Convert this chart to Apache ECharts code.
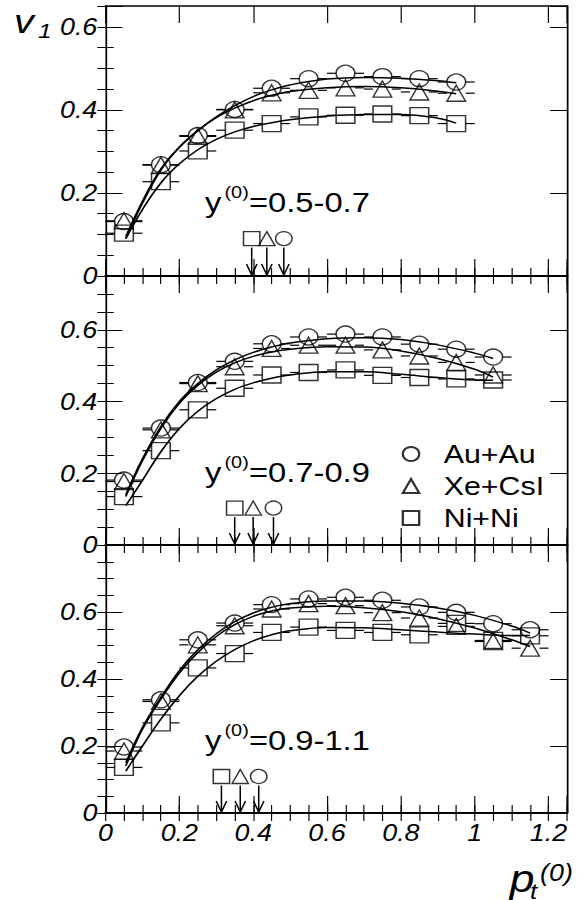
<!DOCTYPE html>
<html><head><meta charset="utf-8">
<script src="https://cdn.jsdelivr.net/npm/echarts@6/dist/echarts.min.js"></script>
<style>
html,body{margin:0;padding:0;background:#fff;overflow:hidden}
#wrap{width:584px;height:900px;overflow:hidden;position:relative}
#c{width:500px;height:900px;transform:scaleX(1.168);transform-origin:0 0}
</style></head>
<body><div id="wrap"><div id="c"></div></div>
<script>
// ---------------- data ----------------
const systems = ['Au+Au', 'Xe+CsI', 'Ni+Ni'];

const ptTop = [0.05, 0.15, 0.25, 0.35, 0.45, 0.55, 0.65, 0.75, 0.85, 0.95];
const auTop = [0.131, 0.268, 0.338, 0.401, 0.452, 0.475, 0.488, 0.480, 0.475, 0.467];
const xeTop = [0.133, 0.267, 0.336, 0.400, 0.441, 0.447, 0.453, 0.450, 0.443, 0.440];
const niTop = [0.103, 0.227, 0.301, 0.351, 0.367, 0.383, 0.387, 0.390, 0.386, 0.367];

const ptMid = [0.05, 0.15, 0.25, 0.35, 0.45, 0.55, 0.65, 0.75, 0.85, 0.95, 1.05];
const auMid = [0.181, 0.326, 0.453, 0.512, 0.561, 0.580, 0.588, 0.580, 0.560, 0.546, 0.524];
const xeMid = [0.177, 0.321, 0.450, 0.497, 0.548, 0.557, 0.557, 0.544, 0.527, 0.509, 0.474];
const niMid = [0.135, 0.263, 0.377, 0.437, 0.474, 0.481, 0.488, 0.473, 0.467, 0.463, 0.460];

const ptBot = [0.05, 0.15, 0.25, 0.35, 0.45, 0.55, 0.65, 0.75, 0.85, 0.95, 1.05, 1.15];
const auBot = [0.197, 0.338, 0.517, 0.567, 0.622, 0.639, 0.644, 0.635, 0.615, 0.599, 0.565, 0.547];
const xeBot = [0.185, 0.333, 0.502, 0.559, 0.609, 0.625, 0.619, 0.598, 0.582, 0.557, 0.512, 0.492];
const niBot = [0.136, 0.269, 0.433, 0.476, 0.539, 0.555, 0.545, 0.539, 0.532, 0.566, 0.515, 0.529];

// half width of the pt bins (horizontal error bars)
const ptHalfBin = 0.05;

// fitted curves
const fitXTop  = [0.055, 0.1, 0.15, 0.2, 0.25, 0.3, 0.35, 0.4, 0.45, 0.5, 0.6, 0.7, 0.8, 0.9, 0.95];
const fitAuTop = [0.095, 0.180, 0.258, 0.310, 0.350, 0.383, 0.410, 0.432, 0.448, 0.460, 0.474, 0.478, 0.476, 0.470, 0.465];
const fitXeTop = [0.090, 0.175, 0.255, 0.310, 0.350, 0.381, 0.404, 0.422, 0.435, 0.444, 0.453, 0.456, 0.453, 0.445, 0.439];
const fitNiTop = [0.090, 0.160, 0.224, 0.270, 0.304, 0.329, 0.347, 0.360, 0.369, 0.376, 0.385, 0.389, 0.389, 0.380, 0.368];

const fitXMid  = [0.055, 0.1, 0.15, 0.2, 0.25, 0.3, 0.35, 0.4, 0.45, 0.5, 0.6, 0.7, 0.8, 0.9, 1.0, 1.05];
const fitAuMid = [0.140, 0.240, 0.330, 0.400, 0.450, 0.488, 0.516, 0.537, 0.552, 0.563, 0.575, 0.578, 0.573, 0.558, 0.535, 0.520];
const fitXeMid = [0.135, 0.235, 0.325, 0.395, 0.445, 0.482, 0.508, 0.526, 0.538, 0.546, 0.553, 0.552, 0.541, 0.520, 0.490, 0.468];
const fitNiMid = [0.110, 0.180, 0.260, 0.325, 0.373, 0.408, 0.434, 0.452, 0.465, 0.474, 0.483, 0.483, 0.476, 0.467, 0.460, 0.459];

const fitXBot  = [0.055, 0.1, 0.15, 0.2, 0.25, 0.3, 0.35, 0.4, 0.45, 0.5, 0.6, 0.7, 0.8, 0.9, 1.0, 1.1, 1.15];
const fitAuBot = [0.150, 0.255, 0.345, 0.425, 0.487, 0.535, 0.571, 0.597, 0.614, 0.625, 0.633, 0.633, 0.626, 0.612, 0.590, 0.558, 0.537];
const fitXeBot = [0.140, 0.250, 0.340, 0.418, 0.479, 0.527, 0.562, 0.587, 0.603, 0.612, 0.617, 0.613, 0.601, 0.580, 0.552, 0.517, 0.497];
const fitNiBot = [0.125, 0.200, 0.280, 0.350, 0.408, 0.453, 0.488, 0.514, 0.532, 0.544, 0.554, 0.553, 0.547, 0.540, 0.534, 0.530, 0.530];

// threshold arrows, in system order Au+Au, Xe+CsI, Ni+Ni, and the level of their symbols
const arrowXTop = [0.483, 0.437, 0.396];
const arrowXMid = [0.455, 0.400, 0.350];
const arrowXBot = [0.415, 0.365, 0.314];
const arrowLevel = [0.090, 0.103, 0.109];

const rapidityLabels = ['=0.5-0.7', '=0.7-0.9', '=0.9-1.1'];
const yMaxPanel = [0.65, 0.75, 0.8];

const xTickValues = [0, 0.2, 0.4, 0.6, 0.8, 1.0, 1.2];
const xTickLabels = ['0', '0.2', '0.4', '0.6', '0.8', '1', '1.2'];
const yTickValues = [0, 0.2, 0.4, 0.6];
const yTickLabels = ['0', '0.2', '0.4', '0.6'];

// ---------------- layout ----------------
const SX = 584 / 500;                 // horizontal stretch of the reference
const FONT = '"Liberation Sans", Arial, Helvetica, sans-serif';
const gridTop = [6, 276, 545];
const gridH = [270, 269, 268];
const gLeft = 105.5 / SX, gWidth = 461.5 / SX;
const symbols = ['circle', 'triangle', 'rect'];

const panels = [
  {pt: ptTop, v: [auTop, xeTop, niTop], fx: fitXTop, f: [fitAuTop, fitXeTop, fitNiTop], ax: arrowXTop},
  {pt: ptMid, v: [auMid, xeMid, niMid], fx: fitXMid, f: [fitAuMid, fitXeMid, fitNiMid], ax: arrowXMid},
  {pt: ptBot, v: [auBot, xeBot, niBot], fx: fitXBot, f: [fitAuBot, fitXeBot, fitNiBot], ax: arrowXBot}
];

function lookup(vals, labels, v) {
  const i = vals.findIndex(t => Math.abs(t - v) < 1e-6);
  return i < 0 ? '' : labels[i];
}

const grids = [];
for (let k = 0; k < 2; k++) for (let g = 0; g < 3; g++)
  grids.push({left: gLeft, width: gWidth, top: gridTop[g], height: gridH[g], containLabel: false});

const tickStyle = {color: '#000', width: 1};
const labelStyle = {color: '#000', fontFamily: FONT, fontStyle: 'italic', fontSize: 23};
const xAxes = [], yAxes = [];
for (let g = 0; g < 3; g++) {
  const bx = {type: 'value', gridIndex: g, min: 0, max: 1.25, interval: 0.2, splitLine: {show: false}};
  xAxes.push(Object.assign({}, bx, {position: 'bottom',
    axisLine: {show: true, onZero: false, lineStyle: {color: '#000', width: 2}},
    axisTick: {show: true, inside: true, length: 17, lineStyle: tickStyle},
    axisLabel: g === 2 ? Object.assign({show: true, margin: 8, formatter: v => lookup(xTickValues, xTickLabels, v)}, labelStyle) : {show: false}}));
  xAxes.push(Object.assign({}, bx, {position: 'top',
    axisLine: {show: g === 0, onZero: false, lineStyle: {color: '#000', width: 1.5}},
    axisTick: {show: true, inside: true, length: 17, lineStyle: tickStyle},
    axisLabel: {show: false}}));
  const by = {type: 'value', gridIndex: g, min: 0, max: yMaxPanel[g], interval: 0.2, splitLine: {show: false}};
  yAxes.push(Object.assign({}, by, {position: 'left',
    axisLine: {show: true, onZero: false, lineStyle: {color: '#000', width: 1.5}},
    axisTick: {show: true, inside: true, length: 14.5, lineStyle: tickStyle},
    axisLabel: Object.assign({show: true, margin: 7, formatter: v => lookup(yTickValues, yTickLabels, v)}, labelStyle)}));
  yAxes.push(Object.assign({}, by, {position: 'right',
    axisLine: {show: true, onZero: false, lineStyle: {color: '#000', width: 1.5}},
    axisTick: {show: true, inside: true, length: 14.5, lineStyle: tickStyle},
    axisLabel: {show: false}}));
}
for (let g = 0; g < 3; g++) {
  const bx = {type: 'value', gridIndex: g + 3, min: 0, max: 1.25, interval: 0.05, splitLine: {show: false},
    axisLine: {show: false}, axisLabel: {show: false}, axisTick: {show: true, inside: true, length: 8, lineStyle: tickStyle}};
  xAxes.push(Object.assign({}, bx, {position: 'bottom'}));
  xAxes.push(Object.assign({}, bx, {position: 'top'}));
  const by = {type: 'value', gridIndex: g + 3, min: 0, max: yMaxPanel[g], interval: 0.05, splitLine: {show: false},
    axisLine: {show: false}, axisLabel: {show: false}, axisTick: {show: true, inside: true, length: 7, lineStyle: tickStyle}};
  yAxes.push(Object.assign({}, by, {position: 'left'}));
  yAxes.push(Object.assign({}, by, {position: 'right'}));
}

const GAP = 8;
function errRender(params, api) {
  const x = api.value(0), y = api.value(1);
  const c = api.coord([x, y]);
  const l = api.coord([x - ptHalfBin, y]);
  const r = api.coord([x + ptHalfBin, y]);
  const st = {stroke: '#000', lineWidth: 1.2};
  const ch = [];
  if (c[0] - GAP > l[0]) ch.push({type: 'line', shape: {x1: l[0], y1: c[1], x2: c[0] - GAP, y2: c[1]}, style: st});
  if (r[0] > c[0] + GAP) ch.push({type: 'line', shape: {x1: c[0] + GAP, y1: c[1], x2: r[0], y2: c[1]}, style: st});
  return {type: 'group', children: ch};
}
function arrowRender(params, api) {
  const x = api.value(0), y = api.value(1);
  const c = api.coord([x, y]);
  const z = api.coord([x, 0]);
  const st = {stroke: '#000', lineWidth: 1.3, fill: null};
  return {type: 'group', children: [
    {type: 'line', shape: {x1: c[0], y1: c[1] + 9, x2: c[0], y2: z[1]}, style: st},
    {type: 'polyline', shape: {points: [[c[0] - 4.5, z[1] - 12], [c[0], z[1] - 1], [c[0] + 4.5, z[1] - 12]]}, style: st}
  ]};
}

const series = [];
panels.forEach((p, g) => {
  for (let s = 0; s < 3; s++) {
    series.push({type: 'line', name: 'fit ' + systems[s], xAxisIndex: 2 * g, yAxisIndex: 2 * g,
      data: p.fx.map((x, i) => [x, p.f[s][i]]), smooth: 0.4, symbol: 'none', silent: true,
      lineStyle: {color: '#000', width: 1.5}, z: 2});
    series.push({type: 'custom', name: 'err ' + systems[s], xAxisIndex: 2 * g, yAxisIndex: 2 * g,
      data: p.pt.map((x, i) => [x, p.v[s][i]]), renderItem: errRender, silent: true, z: 3});
    series.push({type: 'scatter', name: systems[s], xAxisIndex: 2 * g, yAxisIndex: 2 * g,
      data: p.pt.map((x, i) => [x, p.v[s][i]]), symbol: symbols[s], symbolSize: 16,
      itemStyle: {color: 'rgba(0,0,0,0)', borderColor: '#000', borderWidth: 1.3}, z: 4, silent: true});
  }
  series.push({type: 'scatter', name: 'threshold', xAxisIndex: 2 * g, yAxisIndex: 2 * g,
    data: p.ax.map((x, i) => ({value: [x, arrowLevel[g]], symbol: symbols[i]})), symbolSize: 14,
    itemStyle: {color: 'rgba(0,0,0,0)', borderColor: '#000', borderWidth: 1.3}, z: 4, silent: true});
  series.push({type: 'custom', name: 'arrow', xAxisIndex: 2 * g, yAxisIndex: 2 * g,
    data: p.ax.map(x => [x, arrowLevel[g]]), renderItem: arrowRender, silent: true, z: 4});
});

function T(xf, y, text, size, italic, align) {
  return {type: 'text', x: xf / SX, y: y, silent: true, z: 100,
    style: {text: text, font: (italic ? 'italic ' : '') + size + 'px ' + FONT, fill: '#000',
      textAlign: align || 'left', textVerticalAlign: 'middle', align: align || 'left', verticalAlign: 'middle'}};
}
const labelCY = [202, 472, 740];
const graphics = [];
labelCY.forEach((cy, g) => {
  graphics.push(T(205, cy, 'y', 28, false));
  graphics.push(T(224.5, cy - 10, '(0)', 17, false));
  graphics.push(T(249, cy, rapidityLabels[g], 28, false));
});
// axis titles
graphics.push(T(14, 22, 'v', 34, true, 'left'));
graphics.push(T(38, 31, '1', 21, true, 'left'));
graphics.push(T(522, 879, 'p', 38, true, 'center'));
graphics.push(T(530, 891, 't', 22, true, 'left'));
graphics.push(T(540, 873, '(0)', 23, true, 'left'));

const chart = echarts.init(document.getElementById('c'), null, {renderer: 'svg'});
chart.setOption({
  animation: false,
  backgroundColor: '#fff',
  grid: grids,
  xAxis: xAxes,
  yAxis: yAxes,
  legend: {data: systems, orient: 'vertical', left: 343.9, top: 441, padding: 0, itemWidth: 14, itemHeight: 14, itemGap: 6,
    selectedMode: false, textStyle: {fontFamily: FONT, fontSize: 26, color: '#000', padding: [0, 0, 0, 16]}},
  graphic: graphics,
  series: series
});
</script></body></html>
